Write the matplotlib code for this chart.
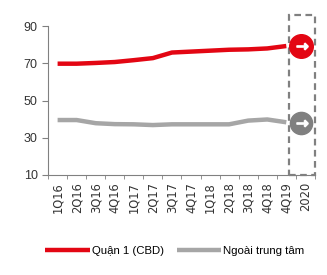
import matplotlib.pyplot as plt
from matplotlib.patches import Rectangle
import numpy as np

plt.rcParams['font.family'] = ['Liberation Sans', 'DejaVu Sans']

quarters = ["1Q16", "2Q16", "3Q16", "4Q16", "1Q17", "2Q17", "3Q17",
            "4Q17", "1Q18", "2Q18", "3Q18", "4Q18", "4Q19", "2020"]
cbd = [69.8, 69.8, 70.2, 70.7, 71.7, 72.8, 75.8, 76.3, 76.8, 77.3, 77.5, 78.0, 79.3]
outside = [39.5, 39.5, 37.8, 37.3, 37.2, 36.8, 37.2, 37.2, 37.2, 37.2, 39.2, 39.8, 38.3]
forecast_x = 12.77
cbd_2020 = 79.3
outside_2020 = 38.0

RED = "#E30613"
GRAY = "#A6A6A6"
DARK = "#808080"

fig = plt.figure(figsize=(3.27, 2.75), dpi=100)
ax = fig.add_axes([0.147, 0.364, 0.816, 0.541])

x = np.arange(len(cbd))
ax.plot(x, cbd, color=RED, linewidth=3.2, label="Quận 1 (CBD)", solid_capstyle="butt")
ax.plot(x, outside, color=GRAY, linewidth=3.2, label="Ngoài trung tâm", solid_capstyle="butt")

# forecast markers with white arrows
ax.plot(forecast_x, cbd_2020, "o", color=RED, markersize=17, clip_on=False, zorder=5)
ax.plot(forecast_x, outside_2020, "o", color=DARK, markersize=16, clip_on=False, zorder=5)
ax.plot(forecast_x + 0.05, cbd_2020, marker=r"$\rightarrow$", color="white", markersize=8, zorder=6, clip_on=False)
ax.plot(forecast_x + 0.05, outside_2020, marker=r"$\rightarrow$", color="white", markersize=8, zorder=6, clip_on=False)

# dashed forecast box
box = Rectangle((12.15, 10), 1.35, 86, fill=False, edgecolor=DARK, linestyle=(0, (3, 2)),
                linewidth=1.6, clip_on=False, zorder=4)
ax.add_patch(box)

ax.set_xlim(-0.5, 13.5)
ax.set_ylim(10, 90)
ax.set_yticks([10, 30, 50, 70, 90])
ax.set_xticks(np.arange(len(quarters)))
ax.set_xticklabels(quarters, rotation=90, fontsize=8.3, family="DejaVu Sans", color="#333333")
ax.set_xticks(np.arange(len(quarters) + 1) - 0.5, minor=True)
ax.tick_params(axis="x", which="major", length=0, pad=5)
ax.tick_params(axis="x", which="minor", length=3, color=DARK)
ax.tick_params(axis="y", length=4, color=DARK, labelsize=9, labelcolor="#333333")

for side in ["top", "right"]:
    ax.spines[side].set_visible(False)
for side in ["left", "bottom"]:
    ax.spines[side].set_color(DARK)
    ax.spines[side].set_linewidth(0.8)

fig.legend(loc="center", bbox_to_anchor=(0.535, 0.087), ncol=2, frameon=False,
           fontsize=8.2, handlelength=3.9, handletextpad=0.2, columnspacing=1.1)

fig.savefig("out.png", dpi=100)
